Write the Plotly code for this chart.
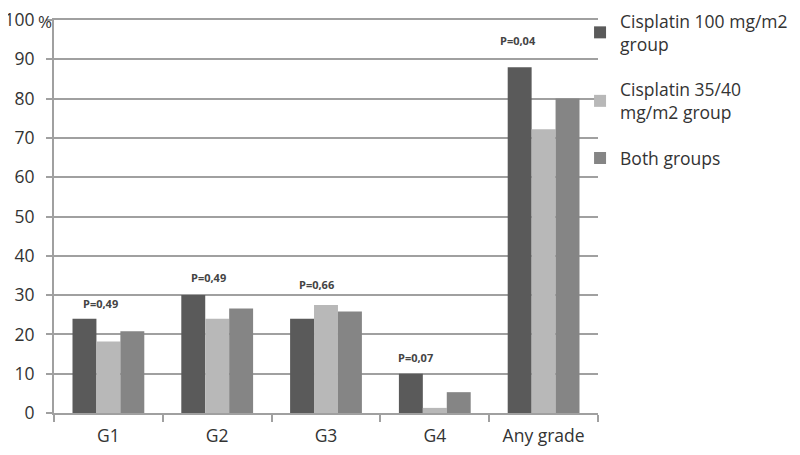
import plotly.graph_objects as go

# data
categories = ["G1", "G2", "G3", "G4", "Any grade"]
series_names = ["Cisplatin 100 mg/m2<br>group", "Cisplatin 35/40<br>mg/m2 group", "Both groups"]
cis_100 = [24, 30, 24, 10, 88]
cis_35_40 = [18.2, 24, 27.5, 1.3, 72.2]
both = [20.8, 26.6, 25.8, 5.3, 80]
p_labels = ["P=0,49", "P=0,49", "P=0,66", "P=0,07", "P=0,04"]
p_label_y = [27.8, 34.6, 32.6, 14.1, 94.7]
p_label_shift = [-8, -9, -10, -19, -26]

y_ticks = [0, 10, 20, 30, 40, 50, 60, 70, 80, 90, 100]

colors = ["#5a5a5a", "#b8b8b8", "#858585"]
font = "Open Sans"
txt_color = "#333"

fig = go.Figure()
for i, (name, vals, col) in enumerate(zip(series_names, [cis_100, cis_35_40, both], colors)):
    fig.add_trace(go.Bar(x=categories, y=vals, name=name, legendgroup=str(i),
                         marker=dict(color=col, line=dict(width=0))))

for cat, txt, yv, sh in zip(categories, p_labels, p_label_y, p_label_shift):
    fig.add_annotation(x=cat, y=yv, text="<b>" + txt + "</b>", showarrow=False,
                       xshift=sh, font=dict(family=font, size=11, color="#444"))

# unit label next to the top tick
fig.add_annotation(x=0, xref="paper", y=100, yref="y", text="%", showarrow=False,
                   xanchor="right", yshift=-1,
                   font=dict(family=font, size=17, color=txt_color))

# page body has an 8px margin, so margins are offset by that
fig.update_layout(
    width=800, height=455,
    margin=dict(l=46, r=210, t=12, b=50, autoexpand=False),
    plot_bgcolor="white", paper_bgcolor="white",
    barmode="group", bargap=0.34, bargroupgap=0,
    font=dict(family=font, size=17, color=txt_color),
    showlegend=True,
    legend=dict(x=0.967, y=1.043, xanchor="left", yanchor="top",
                bgcolor="rgba(0,0,0,0)",
                font=dict(family=font, size=17.5, color=txt_color),
                tracegroupgap=20, itemwidth=30),
)
# mirrored x line stands in for the gridline at 100, which plotly drops at the range edge
fig.update_xaxes(showline=True, mirror=True, linecolor="#a0a0a0", linewidth=2,
                 ticks="outside", tickson="boundaries", ticklen=7,
                 tickcolor="#a0a0a0", tickwidth=2, showgrid=False,
                 automargin=False, ticklabelstandoff=6,
                 tickfont=dict(size=17.5))
fig.update_yaxes(range=[0, 100], tickvals=y_ticks,
                 showline=True, linecolor="#a0a0a0", linewidth=2,
                 ticks="outside", ticklen=6, tickcolor="#a0a0a0", tickwidth=2,
                 showgrid=True, gridcolor="#a0a0a0", gridwidth=2,
                 zeroline=False, automargin=False, ticklabelstandoff=8,
                 ticklabeloverflow="allow", tickfont=dict(size=17.5))

fig.write_html("out.html")
